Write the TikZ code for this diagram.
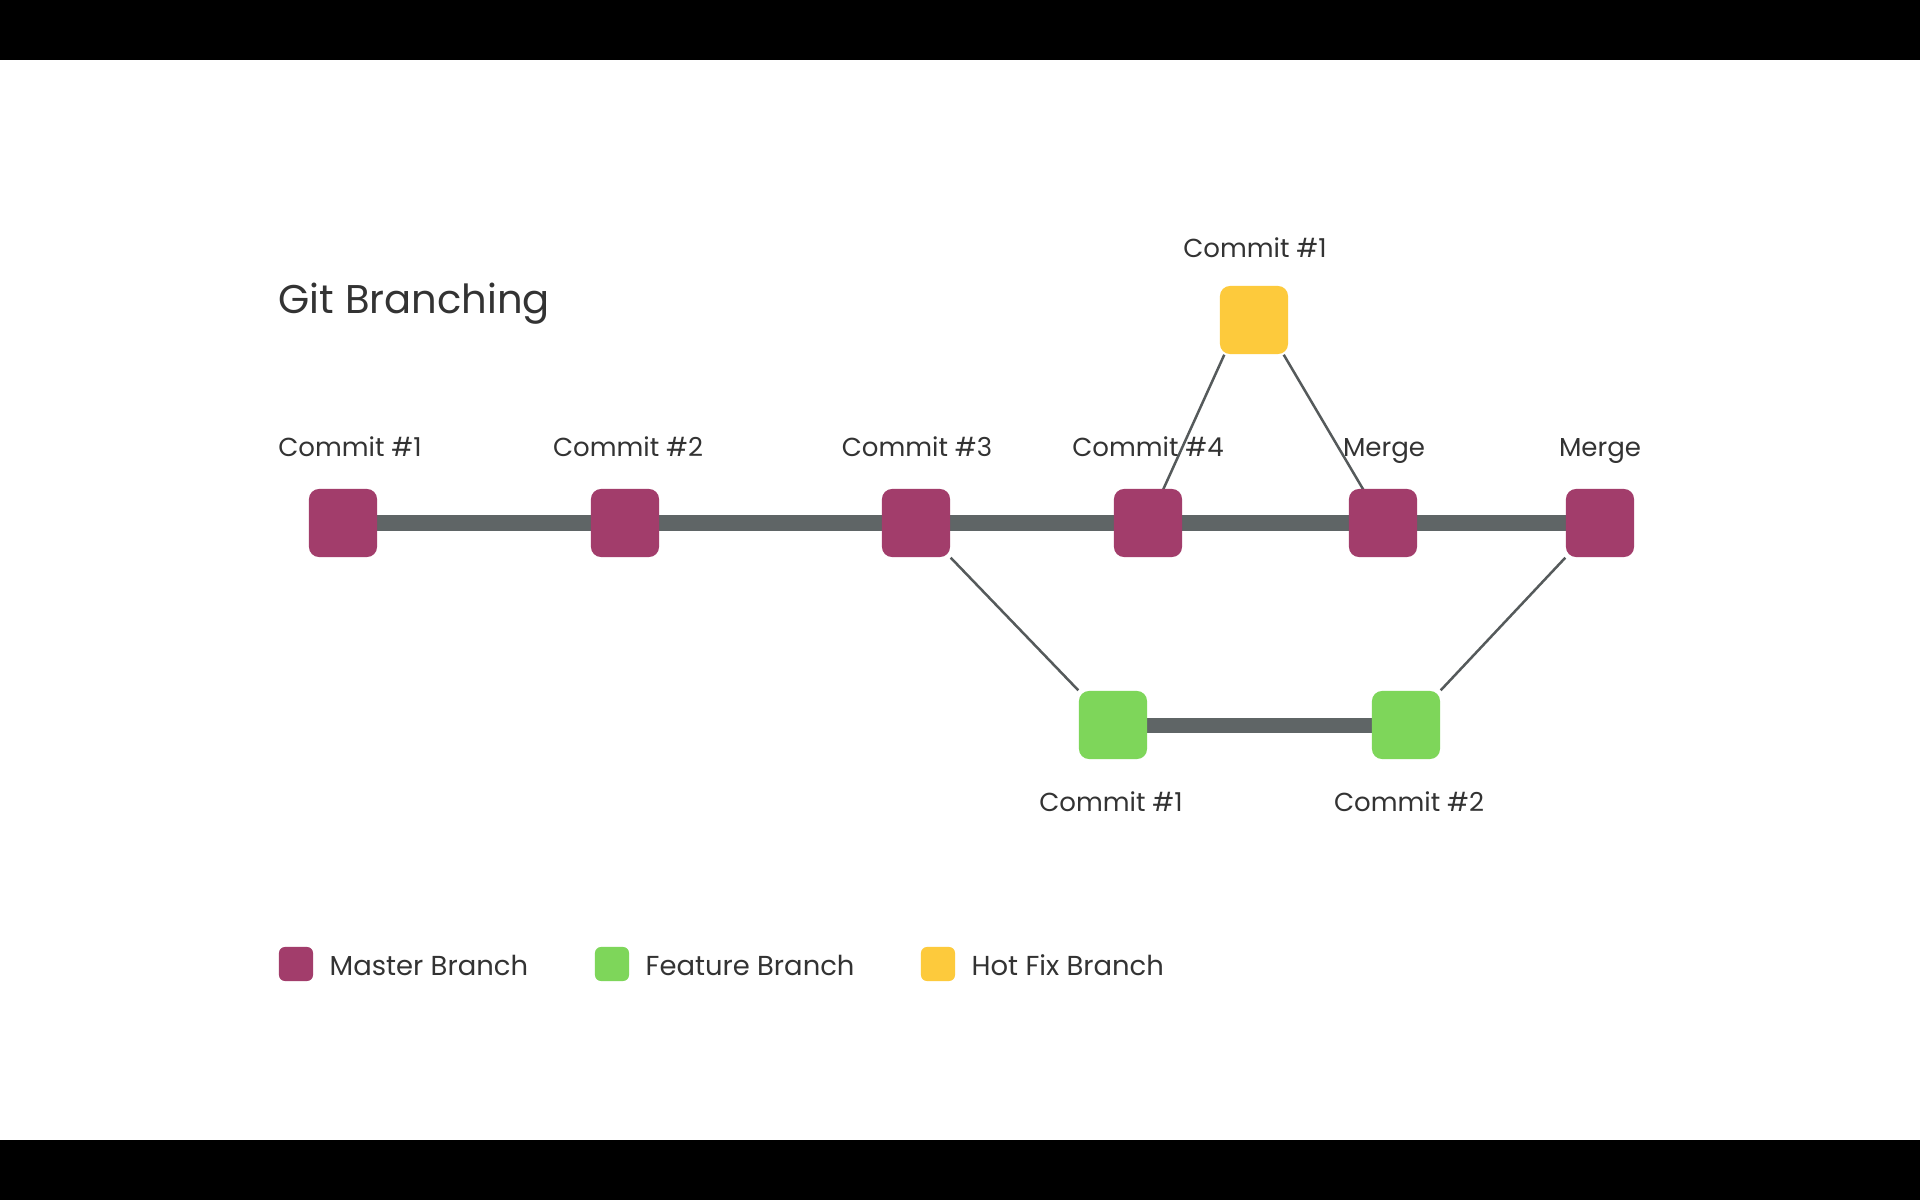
\documentclass[tikz,border=0pt]{standalone}
\usepackage{fontspec}
\setmainfont{Poppins}
\pgfdeclarelayer{back}
\pgfdeclarelayer{bg}
\pgfsetlayers{back,bg,main}
\definecolor{master}{HTML}{A23D6B}
\definecolor{feature}{HTML}{7ED65A}
\definecolor{hotfix}{HTML}{FDCA3C}
\definecolor{rail}{HTML}{5F6566}
\definecolor{thin}{HTML}{555A5B}
\definecolor{txt}{HTML}{333333}
\tikzset{
  commitbox/.style={draw=none, minimum width=0.68cm, minimum height=0.68cm, inner sep=0pt, rounded corners=0.1cm},
  legbox/.style={draw=none, minimum width=0.34cm, minimum height=0.34cm, inner sep=0pt, rounded corners=0.06cm},
  lab/.style={font=\fontsize{7.4}{9}\selectfont, text=txt, anchor=base, inner sep=0pt},
  leglab/.style={font=\fontsize{7.8}{9}\selectfont, text=txt, anchor=base west, inner sep=0pt},
  railline/.style={draw=rail, line width=0.15cm},
  branchline/.style={draw=thin, line width=0.025cm},
}
\begin{document}
\begin{tikzpicture}[x=0.01cm, y=-0.01cm]
\begin{pgfonlayer}{back}
\fill[black] (0,0) rectangle (1920,1200);
\fill[white] (0,60) rectangle (1920,1140);
\end{pgfonlayer}
\useasboundingbox (0,0) rectangle (1920,1200);
% title
\node[font=\fontsize{11.4}{13}\selectfont, text=txt, anchor=base west, inner sep=0pt] (title) at (278,313) {Git Branching};
% master commits
\node[commitbox, fill=master] (m1) at (343,523) {};
\node[commitbox, fill=master] (m2) at (625,523) {};
\node[commitbox, fill=master] (m3) at (916,523) {};
\node[commitbox, fill=master] (m4) at (1148,523) {};
\node[commitbox, fill=master] (m5) at (1383,523) {};
\node[commitbox, fill=master] (m6) at (1600,523) {};
% hotfix
\node[commitbox, fill=hotfix] (h1) at (1254,320) {};
% feature
\node[commitbox, fill=feature] (f1) at (1113,725) {};
\node[commitbox, fill=feature] (f2) at (1406,725) {};
% labels
\node[lab] (lm1) at (350,456) {Commit \#1};
\node[lab] (lm2) at (628,456) {Commit \#2};
\node[lab] (lm3) at (917,456) {Commit \#3};
\node[lab] (lm4) at (1148,456) {Commit \#4};
\node[lab] (lm5) at (1384,456) {Merge};
\node[lab] (lm6) at (1600,456) {Merge};
\node[lab] (lh1) at (1255,257) {Commit \#1};
\node[lab] (lf1) at (1111,811) {Commit \#1};
\node[lab] (lf2) at (1409,811) {Commit \#2};
% connectors
\begin{pgfonlayer}{bg}
\draw[railline] (m1.center) -- (m6.center);
\draw[railline] (f1.center) -- (f2.center);
\draw[branchline] ([xshift=0.05cm]h1.south west) -- (m4.center);
\draw[branchline] ([xshift=-0.05cm]h1.south east) -- (m5.center);
\draw[branchline] (m3.south east) -- (f1.north west);
\draw[branchline] (m6.south west) -- (f2.north east);
\end{pgfonlayer}
% legend
\node[legbox, fill=master] (k1) at (296,964) {};
\node[leglab] (t1) at (329,975) {Master Branch};
\node[legbox, fill=feature] (k2) at (612,964) {};
\node[leglab] (t2) at (645,975) {Feature Branch};
\node[legbox, fill=hotfix] (k3) at (938,964) {};
\node[leglab] (t3) at (971,975) {Hot Fix Branch};
\end{tikzpicture}
\end{document}
